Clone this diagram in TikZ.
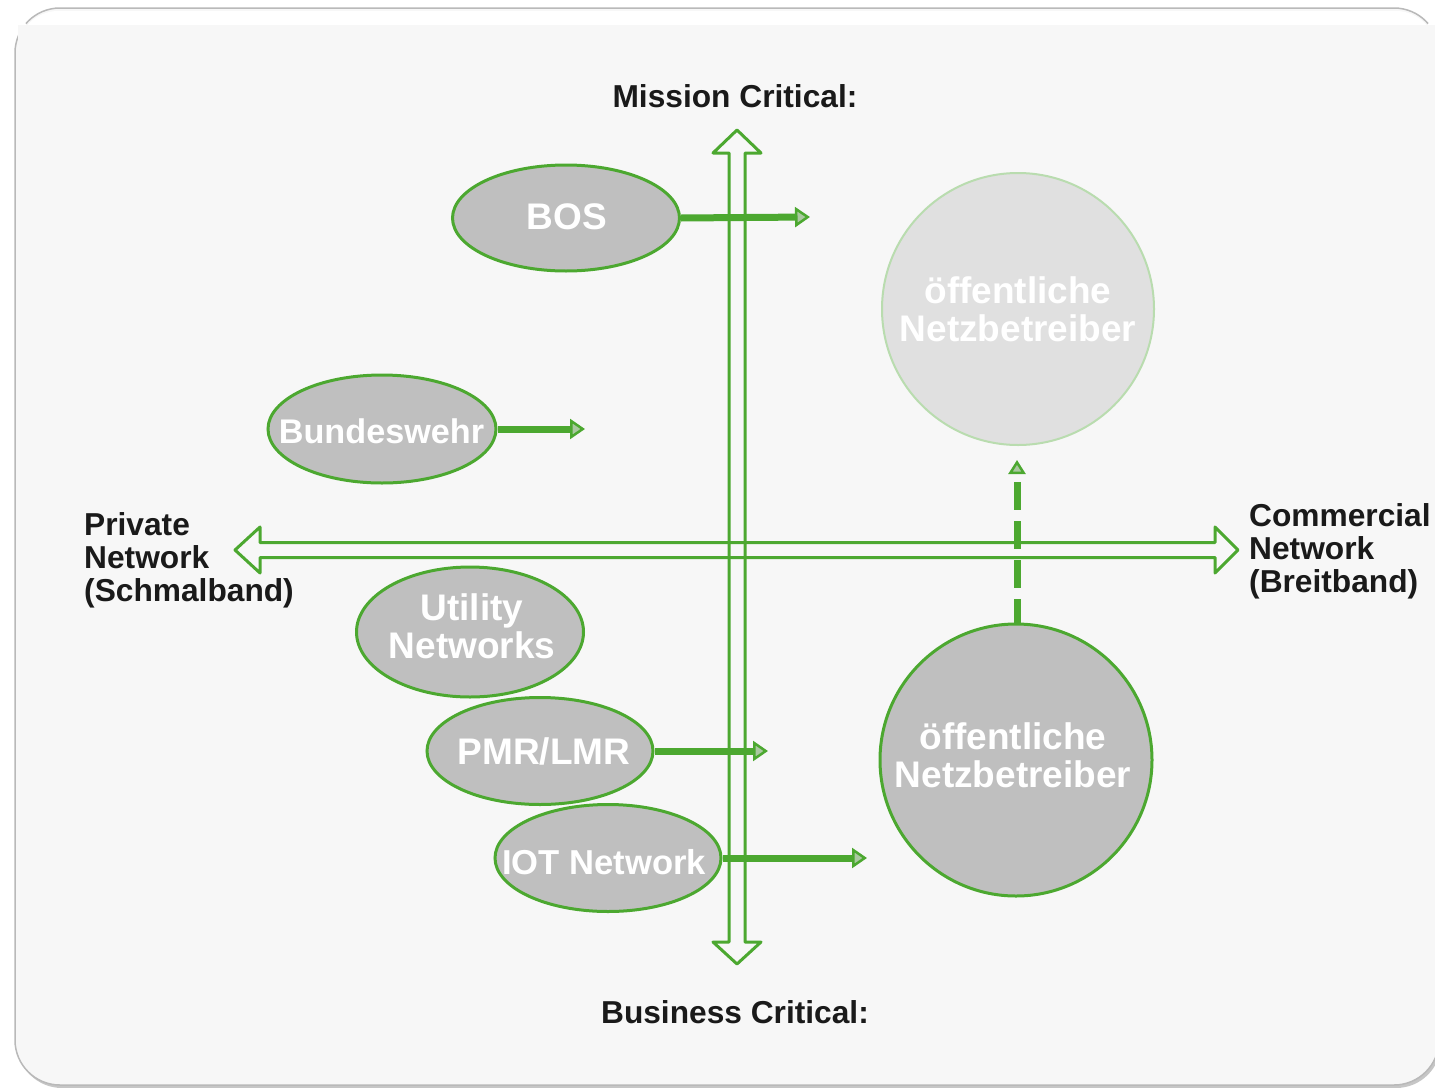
\documentclass[tikz,border=0pt]{standalone}
\usepackage{fontspec}
\setmainfont{Liberation Sans}
\usetikzlibrary{shapes.geometric,arrows.meta}
\definecolor{gcol}{RGB}{76,168,48}
\definecolor{lgcol}{RGB}{185,220,175}
\definecolor{ellfill}{RGB}{191,191,191}
\definecolor{lightfill}{RGB}{224,224,224}
\definecolor{bgcol}{RGB}{247,247,247}
\definecolor{tipfill}{RGB}{170,200,160}
\definecolor{txtcol}{RGB}{26,26,26}
\tikzset{
  ell/.style={ellipse, draw=gcol, line width=3pt, fill=ellfill, inner sep=0pt},
  ntxt/.style={text=white, font=\fontsize{37}{38}\selectfont\bfseries, align=center, inner sep=0pt},
  lbl/.style={text=txtcol, font=\fontsize{31.7}{33}\selectfont\bfseries, inner sep=0pt},
  axis/.style={draw=gcol, line width=3pt, line join=round},
  conn/.style={draw=gcol, line width=7pt, -{Triangle[length=15pt,width=20pt,fill=tipfill,line width=2.5pt]}},
  dconn/.style={draw=gcol, line width=7pt, dash pattern=on 28pt off 11pt, dash phase=4pt, -{Triangle[length=14pt,width=17pt,fill=tipfill,line width=2.5pt]}}
}
\begin{document}
\begin{tikzpicture}[x=1pt,y=-1pt]
\useasboundingbox (0,0) rectangle (1435,1087);
% frame
\fill[white] (0,0) rectangle (1435,1087);
\draw[fill=gray!45, draw=none, rounded corners=45pt] (17,10) rectangle (1441,1088);
\draw[fill=bgcol, draw=gray!55, line width=1.5pt, rounded corners=45pt] (15,8) rectangle (1439,1085);
\fill[white, rounded corners=40pt] (18,11) rectangle (1436,40);
\fill[bgcol] (18,25) rectangle (1436,45);
% axes
\draw[axis] (729,153) -- (713,153) -- (737,130) -- (761,153) -- (745,153) -- (745,942) -- (761,942) -- (737,964) -- (713,942) -- (729,942) -- cycle;
\draw[axis] (260,542.5) -- (260,527) -- (235,550) -- (260,573) -- (260,557.5) -- (1215,557.5) -- (1215,573) -- (1238,550) -- (1215,527) -- (1215,542.5) -- cycle;
% axis labels
\node[lbl] (mc) at (735,96) {Mission Critical:};
\node[lbl] (bc) at (735,1012) {Business Critical:};
\node[lbl, anchor=west, align=left] (pn) at (84,560) {Private\\Network\\(Schmalband)};
\node[lbl, anchor=west, align=left] (cn) at (1249,551) {Commercial\\Network\\(Breitband)};
% ellipses
\node[ell, minimum width=227pt, minimum height=106pt] (bos) at (566,218) {};
\node[ntxt] (bost) at (567,217) {BOS};
\node[ell, minimum width=228pt, minimum height=108pt] (bw) at (382,429) {};
\node[ntxt, font=\fontsize{34.2}{36}\selectfont\bfseries] (bwt) at (381.5,431) {Bundeswehr};
\node[ell, minimum width=227pt, minimum height=130pt] (ut) at (470,632) {};
\node[ntxt] (utt) at (472,626) {Utility\\Networks};
\node[ell, minimum width=226pt, minimum height=107pt] (pmr) at (540,751) {};
\node[ntxt] (pmrt) at (544,751) {PMR/LMR};
\node[ell, minimum width=226pt, minimum height=107pt] (iot) at (608,858) {};
\node[ntxt, font=\fontsize{34.6}{36}\selectfont\bfseries] (iott) at (604,862) {IOT Network};
% circles
\node[circle, draw=lgcol, line width=2pt, fill=lightfill, minimum size=272pt, inner sep=0pt] (pub1) at (1018,309) {};
\node[ntxt] (pub1t) at (1018,309) {öffentliche\\Netzbetreiber};
\node[circle, draw=gcol, line width=3pt, fill=ellfill, minimum size=272pt, inner sep=0pt] (pub2) at (1016,760) {};
\node[ntxt] (pub2t) at (1013,755) {öffentliche\\Netzbetreiber};
% connectors
\coordinate (bosE) at (810,217);
\coordinate (bwE) at (585,429);
\coordinate (pmrE) at (768,751);
\coordinate (iotE) at (867,858);
\coordinate (pubE) at (1017,460);
\draw[conn] (bos.east) -- (bosE);
\draw[conn] (bw.east) -- (bwE);
\draw[conn] (pmr.east) -- (pmrE);
\draw[conn] (iot.east) -- (iotE);
\draw[dconn] (pub2.north -| pubE) -- (pubE);
\end{tikzpicture}
\end{document}
